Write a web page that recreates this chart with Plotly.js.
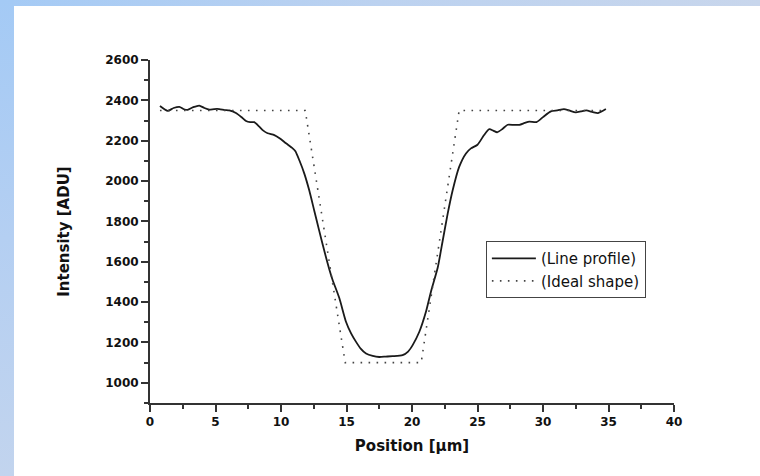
<!DOCTYPE html>
<html>
<head>
<meta charset="utf-8">
<script src="https://cdn.plot.ly/plotly-3.0.1.min.js"></script>
<style>
  html, body { margin: 0; padding: 0; background: #ffffff; }
  #wrap { position: relative; width: 760px; height: 476px; overflow: hidden; background: #ffffff; }
  #topstrip { position: absolute; left: 0; top: 0; width: 760px; height: 6px;
    background: linear-gradient(to right, #a4caf5, #bcd2f0 50%, #c8d6ec); }
  #leftstrip { position: absolute; left: 0; top: 0; width: 14px; height: 476px;
    background: linear-gradient(to bottom, #a4caf5, #b4cff2 50%, #c2d4ee); }
  #chart { position: absolute; left: 0; top: 0; width: 760px; height: 476px; }
</style>
</head>
<body>
<div id="wrap">
  <div id="topstrip"></div>
  <div id="leftstrip"></div>
  <div id="chart"></div>
</div>
<script>
// Measured line profile
const profileX = [0.76, 1.35, 1.8, 2.24, 2.6, 2.87, 3.3, 3.76, 4.15, 4.53, 4.9, 5.29, 5.7, 6.05, 6.56, 7.0, 7.33, 7.65, 7.96, 8.34, 8.65, 8.98, 9.49, 9.89, 10.38, 10.89, 11.1, 11.4, 11.78, 12.16, 12.54, 12.92, 13.31, 13.69, 13.94, 14.45, 14.96, 15.35, 15.73, 16.1, 16.49, 17.0, 17.5, 18.0, 18.52, 19.28, 19.7, 20.05, 20.56, 21.07, 21.45, 21.96, 22.34, 22.72, 23.1, 23.6, 24.12, 24.5, 25.0, 25.5, 25.9, 26.2, 26.5, 26.9, 27.3, 27.8, 28.2, 28.6, 28.96, 29.5, 30.0, 30.6, 31.1, 31.6, 32.0, 32.5, 32.9, 33.3, 33.8, 34.2, 34.8];
const profileY = [2372, 2348, 2362, 2368, 2356, 2353, 2366, 2374, 2362, 2354, 2357, 2357, 2352, 2350, 2337, 2316, 2298, 2292, 2292, 2270, 2250, 2237, 2228, 2212, 2187, 2162, 2148, 2103, 2037, 1953, 1853, 1753, 1653, 1562, 1510, 1420, 1303, 1245, 1203, 1168, 1145, 1133, 1128, 1130, 1132, 1137, 1155, 1187, 1253, 1353, 1453, 1570, 1703, 1837, 1953, 2070, 2137, 2162, 2180, 2228, 2257, 2250, 2242, 2258, 2279, 2278, 2279, 2288, 2295, 2292, 2317, 2345, 2350, 2357, 2350, 2340, 2345, 2350, 2342, 2337, 2357];
// Ideal shape
const idealX = [0.76, 11.85, 14.9, 20.7, 23.6, 34.8];
const idealY = [2350, 2350, 1100, 1100, 2350, 2350];
// Axis ticks
const xTicks = [0, 5, 10, 15, 20, 25, 30, 35, 40];
const yTicks = [1000, 1200, 1400, 1600, 1800, 2000, 2200, 2400, 2600];

const FONT = 'DejaVu Sans, Verdana, sans-serif';

const traces = [
  { x: profileX, y: profileY, type: 'scatter', mode: 'lines', name: '(Line profile)',
    line: { color: '#1a1a1a', width: 1.8, shape: 'spline', smoothing: 0.6 } },
  { x: idealX, y: idealY, type: 'scatter', mode: 'lines', name: '(Ideal shape)',
    line: { color: '#444444', width: 1.6, dash: '1.6px,6.4px' } }
];

const axisCommon = {
  showgrid: false, zeroline: false, showline: true, linecolor: '#333333', linewidth: 2,
  ticks: 'outside', ticklen: 7, tickwidth: 2, tickcolor: '#333333',
  tickfont: { family: FONT, size: 12, color: '#111111', weight: 'bold' },
  mirror: false
};

const layout = {
  width: 760, height: 476,
  margin: { l: 150, r: 86, t: 60, b: 73 },
  paper_bgcolor: 'rgba(0,0,0,0)', plot_bgcolor: 'rgba(0,0,0,0)',
  font: { family: FONT, color: '#111111' },
  showlegend: true,
  legend: {
    x: 0.641, y: 0.472, xanchor: 'left', yanchor: 'top',
    bgcolor: 'rgba(255,255,255,0)', bordercolor: '#444444', borderwidth: 1,
    font: { family: FONT, size: 15, color: '#111111' },
    itemwidth: 44,
    tracegroupgap: 0
  },
  xaxis: Object.assign({}, axisCommon, {
    range: [0, 40], tickvals: xTicks, ticktext: xTicks.map(String),
    minor: { dtick: 2.5, tick0: 0, ticks: 'outside', ticklen: 4, tickwidth: 2, tickcolor: '#333333' },
    title: { text: 'Position [μm]', font: { family: FONT, size: 15, color: '#111111', weight: 'bold' }, standoff: 12 }
  }),
  yaxis: Object.assign({}, axisCommon, {
    range: [900, 2600], tickvals: yTicks, ticktext: yTicks.map(String),
    minor: { dtick: 100, tick0: 900, ticks: 'outside', ticklen: 4, tickwidth: 2, tickcolor: '#333333' },
    title: { text: 'Intensity [ADU]', font: { family: FONT, size: 15, color: '#111111', weight: 'bold' }, standoff: 32 }
  })
};

Plotly.newPlot('chart', traces, layout, { displayModeBar: false, staticPlot: true });
</script>
</body>
</html>
